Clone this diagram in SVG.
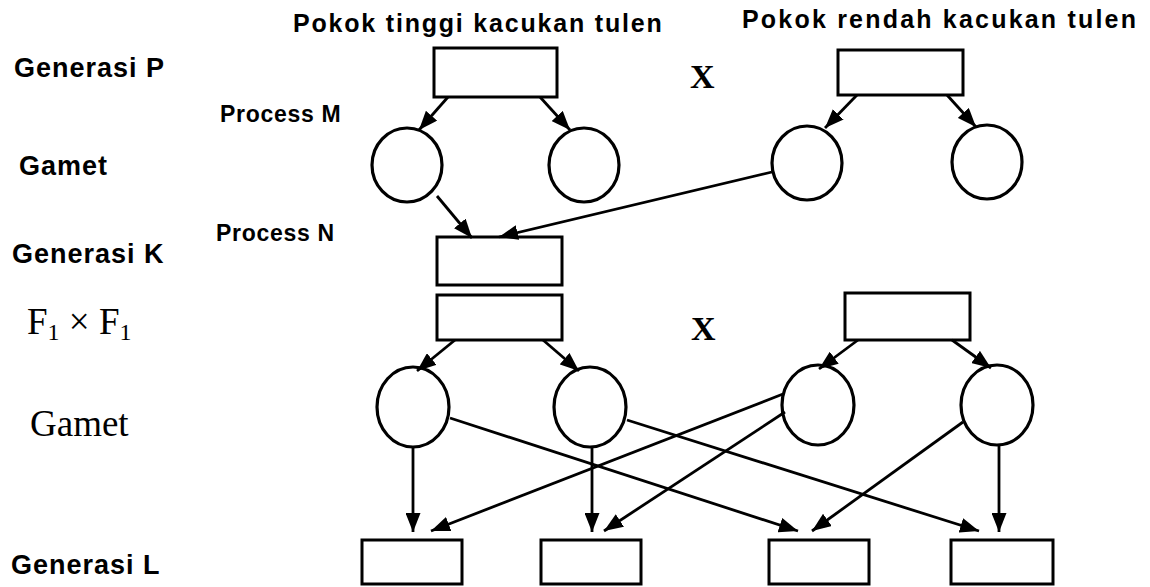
<svg xmlns="http://www.w3.org/2000/svg" width="1150" height="587" viewBox="0 0 1150 587">
<defs>
<marker id="ah" viewBox="0 0 10 10" refX="10" refY="5" markerWidth="19" markerHeight="15" markerUnits="userSpaceOnUse" orient="auto" preserveAspectRatio="none">
<path d="M0,0 L10,5 L0,10 z" fill="#000"/>
</marker>
<style>
.lbl{font-family:"Liberation Sans",Arial,sans-serif;font-weight:bold;fill:#000}
.gen{font-size:27px;letter-spacing:1px}
.proc{font-size:23px;letter-spacing:0.7px}
.ttl{font-size:25px}
.ser{font-family:"Liberation Serif","Times New Roman",serif;fill:#000}
.box{fill:#fff;stroke:#000;stroke-width:3}
.circ{fill:#fff;stroke:#000;stroke-width:3.2}
.con line{stroke:#000;stroke-width:2.8;marker-end:url(#ah)}
</style>
</defs>
<rect width="1150" height="587" fill="#fff"/>
<g id="labels">
<text class="lbl ttl" x="293" y="32" style="letter-spacing:1.8px">Pokok tinggi kacukan tulen</text>
<text class="lbl ttl" x="742" y="28" style="letter-spacing:2.2px">Pokok rendah kacukan tulen</text>
<text class="lbl gen" x="14" y="77">Generasi P</text>
<text class="lbl proc" x="220" y="122">Process M</text>
<text class="lbl gen" x="19" y="175">Gamet</text>
<text class="lbl proc" x="216" y="241">Process N</text>
<text class="lbl gen" x="12" y="263">Generasi K</text>
<text class="lbl gen" x="11" y="574">Generasi L</text>
<text class="ser" x="27" y="334" font-size="37">F<tspan font-size="24" dy="6">1</tspan><tspan dy="-6"> × F</tspan><tspan font-size="24" dy="6">1</tspan></text>
<text class="ser" x="30" y="436" font-size="37">Gamet</text>
<text class="ser" x="690" y="88" font-size="34" font-weight="bold">X</text>
<text class="ser" x="691" y="340" font-size="34" font-weight="bold">X</text>
</g>
<g id="node-P1"><rect class="box" x="434" y="48" width="123" height="49"/></g>
<g id="node-P2"><rect class="box" x="838" y="50" width="125" height="45"/></g>
<g id="node-G1"><ellipse class="circ" cx="407" cy="165" rx="35" ry="37"/></g>
<g id="node-G2"><ellipse class="circ" cx="584" cy="165" rx="35" ry="37"/></g>
<g id="node-G3"><ellipse class="circ" cx="807" cy="163" rx="35" ry="37"/></g>
<g id="node-G4"><ellipse class="circ" cx="987" cy="162" rx="35" ry="37"/></g>
<g id="node-K"><rect class="box" x="437" y="237" width="125" height="48"/></g>
<g id="node-F1a"><rect class="box" x="437" y="295" width="125" height="45"/></g>
<g id="node-F1b"><rect class="box" x="845" y="293" width="125" height="47"/></g>
<g id="node-H1"><ellipse class="circ" cx="413" cy="407" rx="36" ry="40"/></g>
<g id="node-H2"><ellipse class="circ" cx="590" cy="407" rx="36" ry="40"/></g>
<g id="node-H3"><ellipse class="circ" cx="818" cy="405" rx="36" ry="40"/></g>
<g id="node-H4"><ellipse class="circ" cx="997" cy="405" rx="36" ry="40"/></g>
<g id="node-L1"><rect class="box" x="362" y="540" width="100" height="44"/></g>
<g id="node-L2"><rect class="box" x="541" y="540" width="100" height="44"/></g>
<g id="node-L3"><rect class="box" x="769" y="540" width="100" height="44"/></g>
<g id="node-L4"><rect class="box" x="951" y="540" width="102" height="44"/></g>
<g id="connectors" class="con">
<line x1="448" y1="97" x2="419" y2="130"/>
<line x1="540" y1="97" x2="570" y2="130"/>
<line x1="857" y1="95" x2="825" y2="128"/>
<line x1="947" y1="95" x2="976" y2="127"/>
<line x1="437" y1="196" x2="472" y2="238"/>
<line x1="772" y1="172" x2="499" y2="237"/>
<line x1="455" y1="340" x2="417" y2="371"/>
<line x1="543" y1="340" x2="579" y2="371"/>
<line x1="858" y1="340" x2="819" y2="369"/>
<line x1="952" y1="340" x2="991" y2="368"/>
<line x1="413" y1="447" x2="413" y2="532"/>
<line x1="450" y1="418" x2="798" y2="531"/>
<line x1="592" y1="447" x2="592" y2="532"/>
<line x1="627" y1="420" x2="979" y2="531"/>
<line x1="783" y1="394" x2="431" y2="531"/>
<line x1="785" y1="412" x2="604" y2="531"/>
<line x1="963" y1="422" x2="812" y2="531"/>
<line x1="999" y1="445" x2="999" y2="532"/>
</g>
</svg>
